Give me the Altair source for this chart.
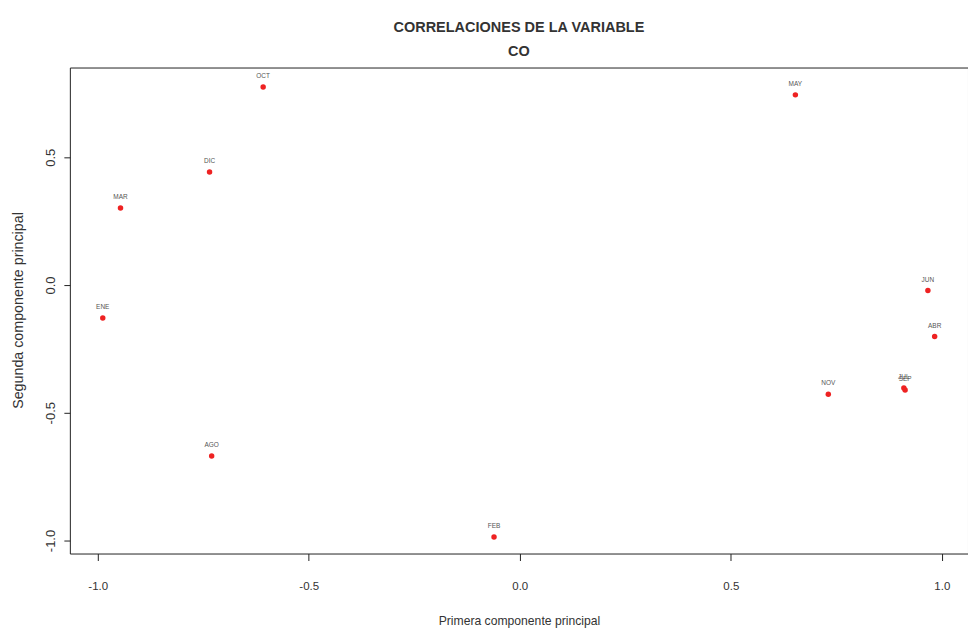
import altair as alt
import pandas as pd

meses = ["ENE", "FEB", "MAR", "ABR", "MAY", "JUN", "JUL", "AGO", "SEP", "OCT", "NOV", "DIC"]
pc1 = [-0.988, -0.061, -0.946, 0.983, 0.653, 0.967, 0.910, -0.730, 0.913, -0.608, 0.731, -0.735]
pc2 = [-0.129, -0.986, 0.301, -0.202, 0.744, -0.022, -0.403, -0.669, -0.411, 0.775, -0.428, 0.442]
x_ticks = [-1.0, -0.5, 0.0, 0.5, 1.0]
y_ticks = [-1.0, -0.5, 0.0, 0.5]

df = pd.DataFrame({"mes": meses, "pc1": pc1, "pc2": pc2})

FONT = "Liberation Sans, Arial, Helvetica, sans-serif"
LBL = "datum.value < 0 ? '-' + format(-datum.value, '.1f') : format(datum.value, '.1f')"

xs = alt.Scale(domain=[-1.066, 1.062], nice=False, zero=False)
ys = alt.Scale(domain=[-1.051, 0.851], nice=False, zero=False)

x_enc = alt.X("pc1:Q", scale=xs, axis=alt.Axis(
    values=x_ticks, labelExpr=LBL, title="Primera componente principal",
    grid=False, domain=False, tickSize=7, tickColor="#222",
    labelFont=FONT, labelFontSize=11.5, labelColor="#333",
    labelBaseline="alphabetic", labelPadding=29,
    titleFont=FONT, titleFontSize=12.2, titleFontWeight="normal", titleColor="#333",
    titleBaseline="alphabetic", titleY=71, titleX=450))
y_enc = alt.Y("pc2:Q", scale=ys, axis=alt.Axis(
    values=y_ticks, labelExpr=LBL, title="Segunda componente principal",
    grid=False, domain=False, tickSize=6, tickColor="#222",
    labelFont=FONT, labelFontSize=13, labelColor="#333",
    labelAngle=270, labelAlign="center", labelBaseline="alphabetic", labelPadding=9,
    titleFont=FONT, titleFontSize=14.3, titleFontWeight="normal", titleColor="#333",
    titleAngle=270, titleAlign="center", titleBaseline="middle", titleX=-51, titleY=243))

pts = alt.Chart(df).mark_circle(size=30, color="#ee2222", opacity=1).encode(x=x_enc, y=y_enc)
labels = alt.Chart(df).mark_text(font=FONT, fontSize=6.5, color="#555", dy=-11).encode(
    x=alt.X("pc1:Q", scale=xs), y=alt.Y("pc2:Q", scale=ys), text="mes:N")

chart = alt.layer(pts, labels).properties(
    width=900, height=487,
    title=alt.TitleParams(
        text=["CORRELACIONES DE LA VARIABLE", "CO"],
        font=FONT, fontSize=14.5, fontWeight="bold", color="#333",
        anchor="middle", baseline="bottom", offset=10, dy=16, lineHeight=24),
    autosize=alt.AutoSizeParams(type="none"),
    padding={"left": 70, "top": 67, "right": 0, "bottom": 88},
    background="white",
).configure_view(stroke="#222", strokeWidth=1)

chart.save("out.html", embed_options={"renderer": "svg", "actions": False})
